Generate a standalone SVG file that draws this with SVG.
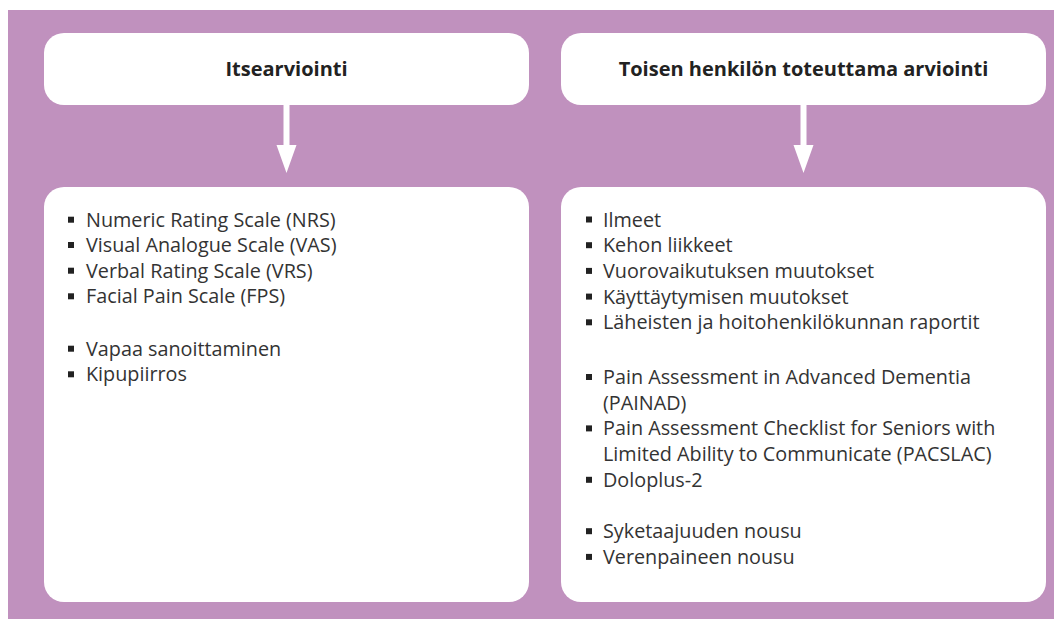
<svg xmlns="http://www.w3.org/2000/svg" width="1054" height="619" viewBox="0 0 1054 619">
<style>
.box{fill:#ffffff}
.title{font-family:"Open Sans","Liberation Sans",sans-serif;font-size:20px;font-weight:700;fill:#222222;text-anchor:middle}
.item{font-family:"Open Sans","Liberation Sans",sans-serif;font-size:19.8px;font-weight:400;fill:#333333}
.bul{fill:#222222}
.arrow{fill:#ffffff}
</style>
<rect x="0" y="0" width="1054" height="619" fill="#ffffff"/>
<rect x="8" y="10" width="1046" height="609" fill="#c091be"/>
<g id="node-itsearviointi">
<rect class="box" x="44" y="33" width="485" height="72" rx="20"/>
<text class="title" x="286.5" y="76">Itsearviointi</text>
</g>
<g id="node-toisen">
<rect class="box" x="561" y="33" width="485" height="72" rx="20"/>
<text class="title" x="803.5" y="76">Toisen henkilön toteuttama arviointi</text>
</g>
<g id="node-left-list">
<rect class="box" x="44" y="187" width="485" height="415" rx="20"/>
<rect class="bul" x="68" y="216.7" width="6" height="6"/>
<text class="item" x="86" y="226.7">Numeric Rating Scale (NRS)</text>
<rect class="bul" x="68" y="242" width="6" height="6"/>
<text class="item" x="86" y="252">Visual Analogue Scale (VAS)</text>
<rect class="bul" x="68" y="267.7" width="6" height="6"/>
<text class="item" x="86" y="277.7">Verbal Rating Scale (VRS)</text>
<rect class="bul" x="68" y="293.3" width="6" height="6"/>
<text class="item" x="86" y="303.3">Facial Pain Scale (FPS)</text>
<rect class="bul" x="68" y="345.7" width="6" height="6"/>
<text class="item" x="86" y="355.7">Vapaa sanoittaminen</text>
<rect class="bul" x="68" y="371.3" width="6" height="6"/>
<text class="item" x="86" y="381.3">Kipupiirros</text>
</g>
<g id="node-right-list">
<rect class="box" x="561" y="187" width="485" height="415" rx="20"/>
<rect class="bul" x="586" y="216.5" width="6" height="6"/>
<text class="item" x="603" y="226.5">Ilmeet</text>
<rect class="bul" x="586" y="242.2" width="6" height="6"/>
<text class="item" x="603" y="252.2">Kehon liikkeet</text>
<rect class="bul" x="586" y="267.9" width="6" height="6"/>
<text class="item" x="603" y="277.9">Vuorovaikutuksen muutokset</text>
<rect class="bul" x="586" y="293.6" width="6" height="6"/>
<text class="item" x="603" y="303.6">Käyttäytymisen muutokset</text>
<rect class="bul" x="586" y="319.3" width="6" height="6"/>
<text class="item" x="603" y="329.3">Läheisten ja hoitohenkilökunnan raportit</text>
<rect class="bul" x="586" y="374" width="6" height="6"/>
<text class="item" x="603" y="384">Pain Assessment in Advanced Dementia</text>
<text class="item" x="603" y="409.7">(PAINAD)</text>
<rect class="bul" x="586" y="425.4" width="6" height="6"/>
<text class="item" x="603" y="435.4">Pain Assessment Checklist for Seniors with</text>
<text class="item" x="603" y="461.1">Limited Ability to Communicate (PACSLAC)</text>
<rect class="bul" x="586" y="476.8" width="6" height="6"/>
<text class="item" x="603" y="486.8">Doloplus-2</text>
<rect class="bul" x="586" y="528.2" width="6" height="6"/>
<text class="item" x="603" y="538.2">Syketaajuuden nousu</text>
<rect class="bul" x="586" y="553.9" width="6" height="6"/>
<text class="item" x="603" y="563.9">Verenpaineen nousu</text>
</g>
<g id="connectors">
<path class="arrow" d="M283.5 105 H289.5 V145 H296.5 L286.5 173 L276.5 145 H283.5 Z"/>
<path class="arrow" d="M800.5 105 H806.5 V145 H813.5 L803.5 173 L793.5 145 H800.5 Z"/>
</g>
</svg>
